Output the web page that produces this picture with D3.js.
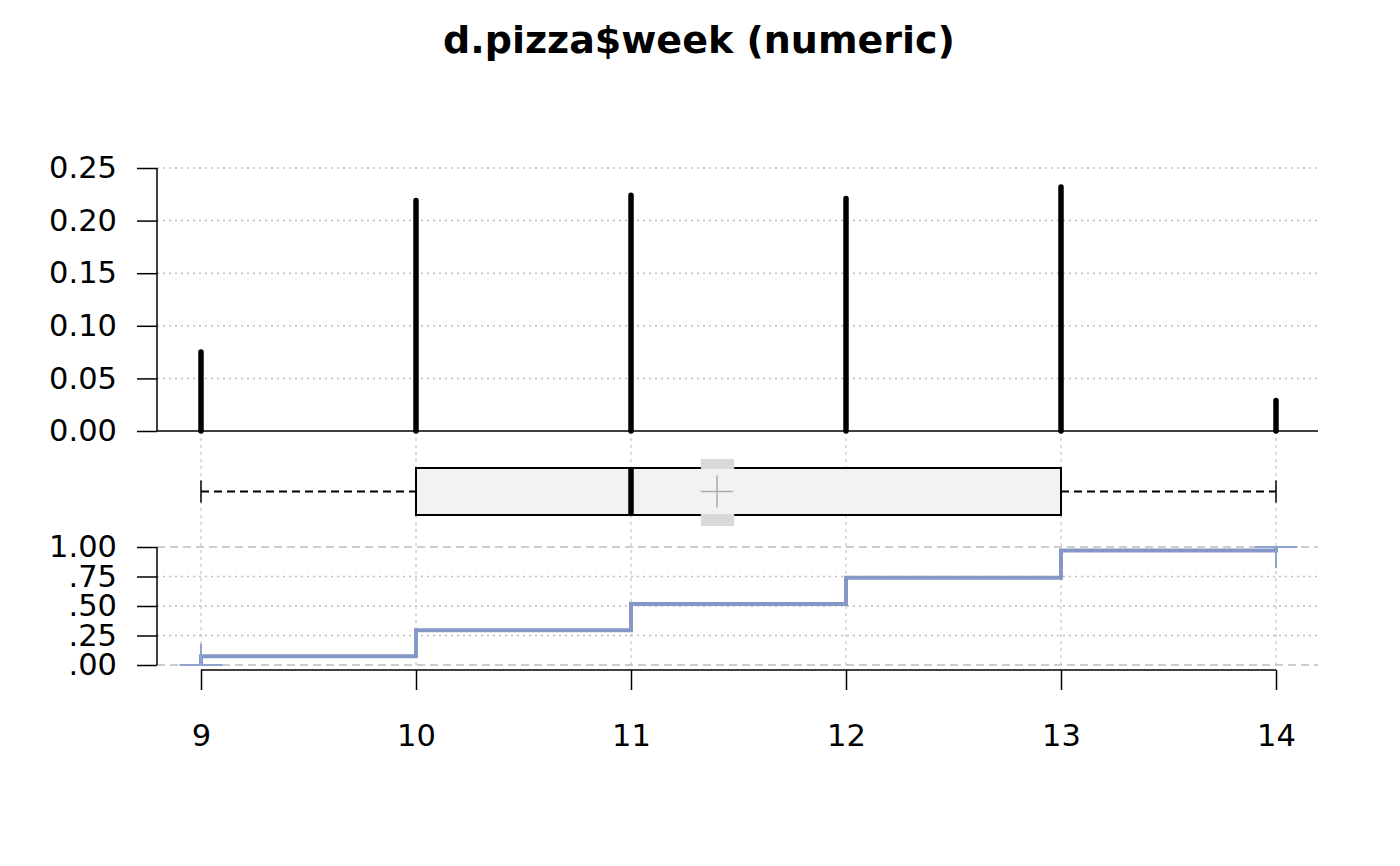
<!DOCTYPE html>
<html>
<head>
<meta charset="utf-8">
<script src="https://cdn.jsdelivr.net/npm/d3@7"></script>
<style>
  body { margin:0; background:#fff; }
  text { font-family: "DejaVu Sans", sans-serif; }
</style>
</head>
<body>
<div id="chart"></div>
<script>
// values
const weeks = [9, 10, 11, 12, 13, 14]
const freq = [0.075, 0.219, 0.224, 0.221, 0.232, 0.029]
const freqTicks = [0, 0.05, 0.10, 0.15, 0.20, 0.25]
const freqLabels = ["0.00", "0.05", "0.10", "0.15", "0.20", "0.25"]
const ecdfTicks = [0, 0.25, 0.5, 0.75, 1]
const ecdfLabels = [".00", ".25", ".50", ".75", "1.00"]
const boxStats = {min: 9, q1: 10, med: 11, q3: 13, max: 14}
const meanStats = {mean: 11.40, lci: 11.325, uci: 11.48}

const W = 1400, H = 866

const svg = d3.select("#chart")
  .append("svg")
    .attr("width", W)
    .attr("height", H)

const x = d3.scaleLinear().domain([9, 14]).range([201, 1276])
const yF = d3.scaleLinear().domain([0, 0.25]).range([431, 168])
const yE = d3.scaleLinear().domain([0, 1]).range([665, 547])
const left = 157, right = 1318

// title
svg.append("text")
  .attr("x", 699)
  .attr("y", 53)
  .attr("text-anchor", "middle")
  .style("font-weight", "bold")
  .style("font-size", "38px")
  .text("d.pizza$week (numeric)")

//vertical grid (box + ecdf area)
svg.selectAll(null)
  .data(weeks)
  .enter()
  .append("line")
  .attr("x1", d => x(d)).attr("x2", d => x(d))
  .attr("y1", yF(0)).attr("y2", 670)
  .style("stroke", "#cfcfcf")
  .style("stroke-width", 1.5)
  .style("stroke-dasharray", "3,4")

//top panel grid
svg.selectAll(null)
  .data(freqTicks.filter(d => d > 0))
  .enter()
  .append("line")
  .attr("x1", left).attr("x2", right)
  .attr("y1", d => yF(d)).attr("y2", d => yF(d))
  .style("stroke", "#bdbdbd")
  .style("stroke-width", 1.5)
  .style("stroke-dasharray", "2,4")

//top y axis
const ayF = svg.append("g")
  .attr("transform", "translate(" + left + ",0)")
  .call(d3.axisLeft(yF)
    .tickValues(freqTicks)
    .tickSize(20)
    .tickPadding(20)
    .tickFormat((d, i) => freqLabels[i]))
ayF.select(".domain").attr("d", "M0," + yF(0.25) + "V" + yF(0))

//baseline
svg.append("line")
  .attr("x1", left).attr("x2", right)
  .attr("y1", yF(0)).attr("y2", yF(0))
  .style("stroke", "black")
  .style("stroke-width", 1.5)

//bars
svg.selectAll(null)
  .data(weeks)
  .enter()
  .append("line")
  .attr("x1", d => x(d)).attr("x2", d => x(d))
  .attr("y1", yF(0))
  .attr("y2", (d, i) => yF(freq[i]))
  .style("stroke", "black")
  .style("stroke-width", 5.5)
  .style("stroke-linecap", "round")

//boxplot
const bTop = 468, bBot = 515, bMid = 491.5
svg.selectAll(null)
  .data([[boxStats.min, boxStats.q1], [boxStats.q3, boxStats.max]])
  .enter()
  .append("line")
  .attr("x1", d => x(d[0])).attr("x2", d => x(d[1]))
  .attr("y1", bMid).attr("y2", bMid)
  .style("stroke", "black")
  .style("stroke-width", 2)
  .style("stroke-dasharray", "8,5")
svg.selectAll(null)
  .data([boxStats.min, boxStats.max])
  .enter()
  .append("line")
  .attr("x1", d => x(d)).attr("x2", d => x(d))
  .attr("y1", bMid - 11).attr("y2", bMid + 11)
  .style("stroke", "black")
  .style("stroke-width", 1.5)
svg.append("rect")
  .attr("x", x(boxStats.q1))
  .attr("y", bTop)
  .attr("width", x(boxStats.q3) - x(boxStats.q1))
  .attr("height", bBot - bTop)
  .style("fill", "#f2f2f2")
  .style("stroke", "black")
  .style("stroke-width", 2)
svg.append("line")
  .attr("x1", x(boxStats.med)).attr("x2", x(boxStats.med))
  .attr("y1", bTop).attr("y2", bBot)
  .style("stroke", "black")
  .style("stroke-width", 5.5)
svg.append("rect")
  .attr("x", x(meanStats.lci))
  .attr("y", 459)
  .attr("width", x(meanStats.uci) - x(meanStats.lci))
  .attr("height", 67)
  .style("fill", "#d9d9d9")
svg.append("rect")
  .attr("x", x(meanStats.lci))
  .attr("y", bTop + 1)
  .attr("width", x(meanStats.uci) - x(meanStats.lci))
  .attr("height", bBot - bTop - 2)
  .style("fill", "#f2f2f2")
svg.append("line")
  .attr("x1", x(meanStats.mean) - 16).attr("x2", x(meanStats.mean) + 16)
  .attr("y1", bMid).attr("y2", bMid)
  .style("stroke", "#aaaaaa").style("stroke-width", 1.5)
svg.append("line")
  .attr("x1", x(meanStats.mean)).attr("x2", x(meanStats.mean))
  .attr("y1", bMid - 16).attr("y2", bMid + 16)
  .style("stroke", "#aaaaaa").style("stroke-width", 1.5)

//ecdf grid
svg.selectAll(null)
  .data(ecdfTicks)
  .enter()
  .append("line")
  .attr("x1", left).attr("x2", right)
  .attr("y1", d => yE(d)).attr("y2", d => yE(d))
  .style("stroke", "#bdbdbd")
  .style("stroke-width", 1.5)
  .style("stroke-dasharray", d => (d == 0 || d == 1) ? "8,5" : "2,4")

//ecdf y axis
const ayE = svg.append("g")
  .attr("transform", "translate(" + left + ",0)")
  .call(d3.axisLeft(yE)
    .tickValues(ecdfTicks)
    .tickSize(20)
    .tickPadding(20)
    .tickFormat((d, i) => ecdfLabels[i]))
ayE.select(".domain").attr("d", "M0," + yE(1) + "V" + yE(0))

//ecdf step line
const cum = d3.cumsum(freq)
const pts = [[weeks[0], 0]].concat(weeks.map((w, i) => [w, cum[i]]))
svg.append("path")
  .datum(pts)
  .attr("d", d3.line()
    .x(d => x(d[0]))
    .y(d => yE(d[1]))
    .curve(d3.curveStepAfter))
  .style("fill", "none")
  .style("stroke", "#8497c6")
  .style("stroke-width", 4)

//end marks of the ecdf
const ends = [[weeks[0], 0, 1], [weeks[weeks.length - 1], 1, -1]]
svg.selectAll(null)
  .data(ends)
  .enter()
  .append("line")
  .attr("x1", d => x(d[0] - 0.1)).attr("x2", d => x(d[0] + 0.1))
  .attr("y1", d => yE(d[1])).attr("y2", d => yE(d[1]))
  .style("stroke", "#8fa2d0").style("stroke-width", 2)
svg.selectAll(null)
  .data(ends)
  .enter()
  .append("line")
  .attr("x1", d => x(d[0])).attr("x2", d => x(d[0]))
  .attr("y1", d => yE(d[1])).attr("y2", d => yE(d[1] + 0.18 * d[2]))
  .style("stroke", "#8fa2d0").style("stroke-width", 2)

//x axis
const ax = svg.append("g")
  .attr("transform", "translate(0,670)")
  .call(d3.axisBottom(x)
    .tickValues(weeks)
    .tickSize(20)
    .tickPadding(34)
    .tickFormat(d3.format("d")))
ax.select(".domain").attr("d", "M" + x(9) + ",0H" + x(14))

for (const g of [ayF, ayE, ax]) {
  g.selectAll("text")
    .style("font-family", "DejaVu Sans, sans-serif")
    .style("font-size", "30.5px")
    .attr("fill", "black")
  g.selectAll("line").style("stroke-width", 1.5)
  g.select(".domain").style("stroke-width", 1.5)
}
</script>
</body>
</html>
